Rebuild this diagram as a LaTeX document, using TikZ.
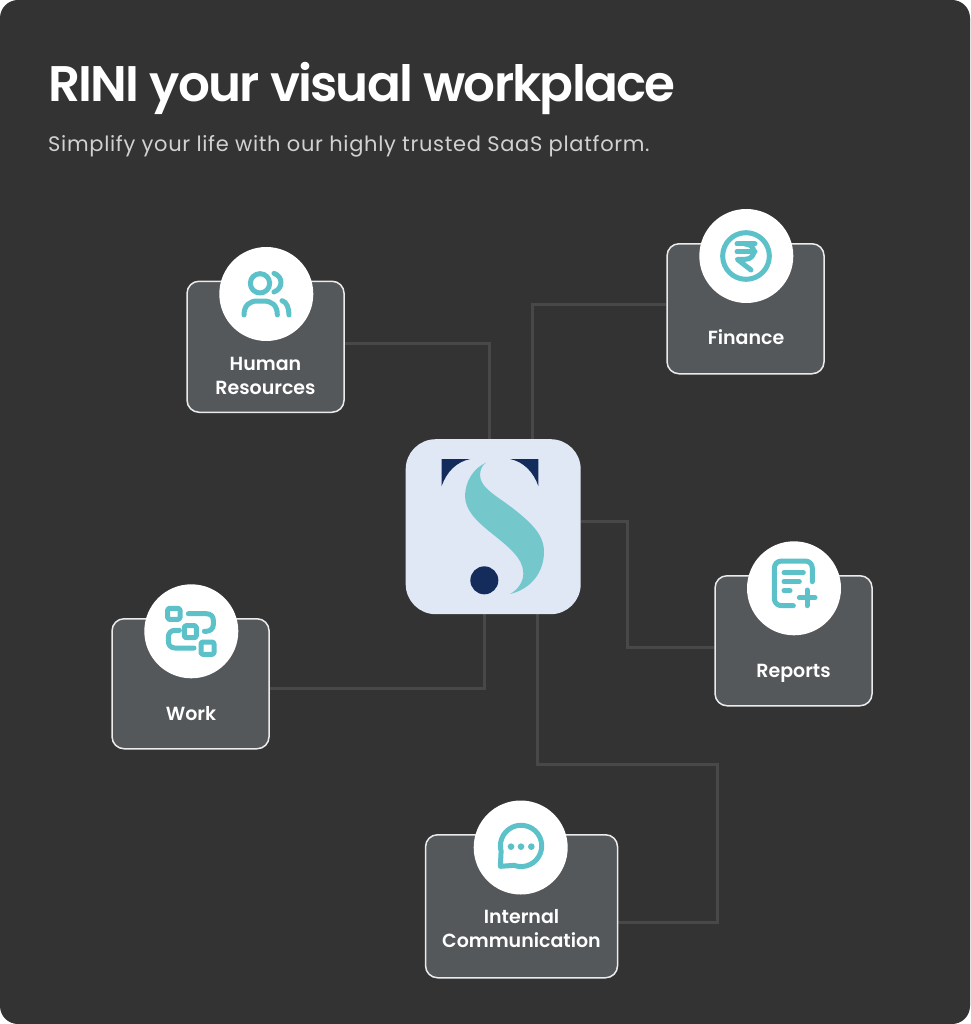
\documentclass[tikz,border=0pt]{standalone}
\usepackage{fontspec}
\setmainfont{Poppins}
\newfontfamily\popsemi{Poppins SemiBold}
\newfontfamily\poptitle[LetterSpace=-3.5]{Poppins SemiBold}
\newfontfamily\popsub[LetterSpace=3.25]{Poppins}
\usetikzlibrary{backgrounds}
\definecolor{panel}{HTML}{333333}
\definecolor{boxfill}{HTML}{54585A}
\definecolor{wire}{HTML}{484848}
\definecolor{teal}{HTML}{5CC1C9}
\definecolor{logobg}{HTML}{E0E8F5}
\definecolor{navy}{HTML}{142C5C}
\definecolor{logoteal}{HTML}{74C8CC}
\tikzset{
  x=1pt,y=-1pt,
  card/.style={draw=white!92!black,line width=1.5pt,fill=boxfill,rounded corners=12pt,inner sep=0pt,anchor=north west},
  disc/.style={circle,fill=white,minimum size=94pt,inner sep=0pt},
  wireline/.style={draw=wire,line width=3pt},
  cardtext/.style={text=white,font=\popsemi\fontsize{19}{24}\selectfont,align=center,anchor=base,inner sep=0pt},
  iconline/.style={draw=teal,line width=5pt,line cap=round,line join=round},
  zoomed/.style={x=0.33333pt,y=-0.33333pt}
}
\begin{document}
\begin{tikzpicture}
\useasboundingbox (0,0) rectangle (970,1024);
% cards
\node[card,minimum width=157pt,minimum height=131pt] (hrbox) at (186.3,280.5) {};
\node[card,minimum width=157pt,minimum height=130pt] (finbox) at (666.3,243) {};
\node[card,minimum width=157pt,minimum height=130pt] (repbox) at (714.3,575) {};
\node[card,minimum width=157pt,minimum height=130pt] (workbox) at (111.3,618) {};
\node[card,minimum width=192pt,minimum height=143pt] (combox) at (424.8,834) {};
\node[fill=logobg,rounded corners=30pt,minimum width=175pt,minimum height=175pt,inner sep=0pt,anchor=north west] (logo) at (405.5,439) {};
% discs
\node[disc] (hrdisc) at (266.3,294) {};
\node[disc] (findisc) at (746.3,256) {};
\node[disc] (repdisc) at (794,588.3) {};
\node[disc] (workdisc) at (191.3,631.3) {};
\node[disc] (comdisc) at (520.7,847.5) {};
% title
\node[anchor=base west,inner sep=0pt,text=white,font=\poptitle\fontsize{50}{52}\selectfont] (title) at (48,101.5) {RINI your visual workplace};
\node[anchor=base west,inner sep=0pt,text=white!82!black,font=\popsub\fontsize{21}{24}\selectfont] (subtitle) at (48,151.7) {Simplify your life with our highly trusted SaaS platform.};
% labels
\node[cardtext] (hrlabel1) at (265.5,370.2) {Human};
\node[cardtext] (hrlabel2) at (265.5,394.2) {Resources};
\node[cardtext] (finlabel) at (746,344.2) {Finance};
\node[cardtext] (replabel) at (793.5,677.2) {Reports};
\node[cardtext] (worklabel) at (191,720.2) {Work};
\node[cardtext] (comlabel1) at (521.5,923.2) {Internal};
\node[cardtext] (comlabel2) at (521.5,947.2) {Communication};
% human resources icon
\begin{scope}[shift={(170,230)},zoomed]
  \draw[iconline] (270,160) circle[radius=29];
  \draw[iconline] (312,130) .. controls (340,140) and (340,175) .. (312,186);
  \draw[iconline] (222,255) .. controls (222,225) and (240,213) .. (262,213) -- (280,213) .. controls (305,213) and (322,225) .. (322,255);
  \draw[iconline] (336,212) .. controls (350,215) and (357,235) .. (357,255);
\end{scope}
% finance icon
\begin{scope}[shift={(690,200)},zoomed]
  \draw[iconline] (168,168) circle[radius=70];
  \draw[iconline] (141,132) -- (195,132);
  \draw[iconline] (141,155) -- (195,155);
  \draw[iconline] (165,132) .. controls (200,132) and (200,178) .. (165,178) -- (142,178) -- (183,210);
\end{scope}
% reports icon
\begin{scope}[shift={(740,535)},zoomed]
  \draw[iconline] (160,212) -- (125,212) .. controls (112,212) and (103,203) .. (103,190) -- (103,100) .. controls (103,87) and (112,78) .. (125,78) -- (195,78) .. controls (208,78) and (217,87) .. (217,100) -- (217,140);
  \draw[iconline] (132,113) -- (190,113);
  \draw[iconline] (132,140) -- (178,140);
  \draw[iconline] (132,167) -- (150,167);
  \draw[iconline] (178,188) -- (225,188);
  \draw[iconline] (201,165) -- (201,212);
\end{scope}
% work icon
\begin{scope}[shift={(135,578)},zoomed]
  \draw[iconline,rounded corners=1.5pt] (98,91) rectangle (135,124);
  \draw[iconline,rounded corners=1.5pt] (148,143) rectangle (184,179);
  \draw[iconline,rounded corners=1.5pt] (198,192) rectangle (237,229);
  \draw[iconline] (160,107) -- (213,107) .. controls (227,107) and (235,115) .. (235,127) -- (235,140) .. controls (235,152) and (225,160) .. (213,160) -- (208,160);
  \draw[iconline] (133,157) -- (120,157) .. controls (108,157) and (100,165) .. (100,177) -- (100,190) .. controls (100,202) and (108,210) .. (120,210) -- (177,210);
\end{scope}
% communication icon
\begin{scope}[shift={(465,795)},zoomed]
  \draw[iconline] (147,211) arc[start angle=110,end angle=-195,radius=62] -- (106,214) -- cycle;
  \fill[teal] (138,155) circle[radius=10];
  \fill[teal] (168,155) circle[radius=10];
  \fill[teal] (199,155) circle[radius=10];
\end{scope}
% logo
\begin{scope}[shift={(395,430)},zoomed]
  \fill[navy] (140,87) -- (226,87) .. controls (185,95) and (155,125) .. (140,168) -- cycle;
  \fill[navy] (430,87) -- (345,87) .. controls (385,95) and (415,125) .. (430,168) -- cycle;
  \fill[logoteal] (273,98) .. controls (235,115) and (210,155) .. (210,200) .. controls (212,240) and (240,270) .. (290,310) .. controls (340,350) and (385,385) .. (385,430) .. controls (385,455) and (370,478) .. (345,492) .. controls (405,478) and (447,430) .. (447,365) .. controls (447,315) and (410,280) .. (360,240) .. controls (310,200) and (255,175) .. (255,135) .. controls (255,120) and (262,105) .. (273,98) -- cycle;
  \fill[navy] (268,451) circle[radius=42];
\end{scope}
% background layer: panel and connectors
\begin{scope}[on background layer]
  \fill[white] (0,0) rectangle (970,1024);
  \fill[panel,rounded corners=18pt] (0,0) rectangle (970,1024);
  \draw[wireline] (hrbox.east |- 0,343) -| (489.5,0 |- logo.north);
  \draw[wireline] (finbox.west |- 0,304) -| (532,0 |- logo.north);
  \draw[wireline] (logo.east |- 0,521) -| (627.7,584) |- (repbox.west |- 0,647);
  \draw[wireline] (workbox.east |- 0,688) -| (484.7,0 |- logo.south);
  \draw[wireline] (combox.east |- 0,922) -| (717.7,764) -| (537,0 |- logo.south);
\end{scope}
\end{tikzpicture}
\end{document}
